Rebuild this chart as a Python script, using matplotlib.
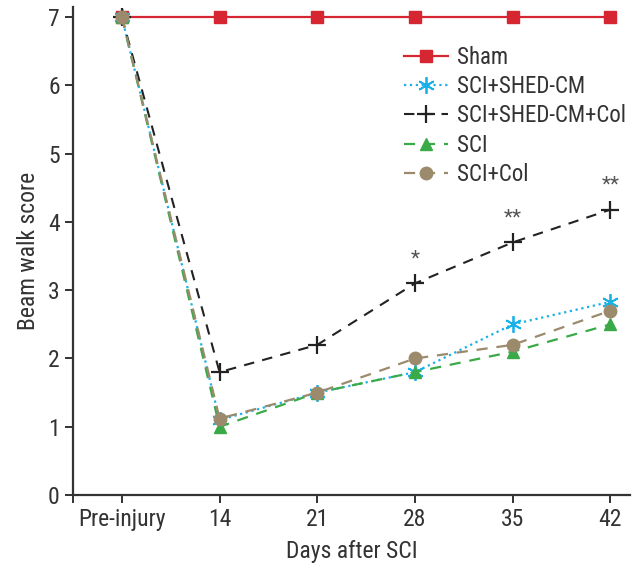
import numpy as np
import matplotlib.pyplot as plt
from matplotlib import font_manager

fams = set(f.name for f in font_manager.fontManager.ttflist)
narrow = 'DejaVu Sans'
for cand in ['Liberation Sans Narrow', 'Roboto Condensed', 'Open Sans Condensed', 'DejaVu Sans Condensed']:
    if cand in fams:
        narrow = cand
        break
plt.rcParams['font.family'] = [narrow, 'DejaVu Sans']
plt.rcParams['font.stretch'] = 'condensed'

# 데이터
days = ['Pre-injury', '14', '21', '28', '35', '42']
sham = [7, 7, 7, 7, 7, 7]
sci_shed = [7, 1.1, 1.5, 1.8, 2.5, 2.83]
sci_shed_col = [7, 1.8, 2.2, 3.1, 3.7, 4.18]
sci = [7, 1.0, 1.5, 1.8, 2.1, 2.5]
sci_col = [7, 1.12, 1.5, 2.0, 2.2, 2.7]
stars = ['', '', '', '*', '**', '**']

x = np.arange(len(days))

fig = plt.figure(figsize=(6.35, 5.71), dpi=100)
ax = fig.add_axes([0.115, 0.133, 0.877, 0.855])

ax.plot(x, sham, '-s', color='#d62631', ms=8, lw=1.6, label='Sham')
ax.plot(x, sci_shed, ':', marker=(6, 2, 0), color='#1ab0e8', ms=12, mew=1.3, lw=1.6, label='SCI+SHED-CM')
ax.plot(x, sci_shed_col, '--+', color='#222222', ms=13, mew=1.6, lw=1.5, dashes=(5, 4), label='SCI+SHED-CM+Col')
ax.plot(x, sci, '--^', color='#3aaa48', ms=9, lw=1.6, dashes=(5, 4), label='SCI')
ax.plot(x, sci_col, '--o', color='#9c8a6c', ms=9, lw=1.6, dashes=(5, 4), label='SCI+Col')

for i, s in enumerate(stars):
    if s:
        ax.text(x[i], sci_shed_col[i] + 0.22, s, ha='center', va='bottom', fontsize=15, color='#555555')

ax.set_xlim(-0.5, 5.2)
ax.set_ylim(0, 7.15)
ax.set_xticks(list(x) + [-0.5])
ax.set_xticklabels(days + [''])
ax.set_yticks(range(0, 8))
ax.tick_params(labelsize=17, length=6, width=1.4, color='#333333', labelcolor='#333333')
for side in ['top', 'right']:
    ax.spines[side].set_visible(False)
for side in ['left', 'bottom']:
    ax.spines[side].set_linewidth(1.6)
    ax.spines[side].set_color('#333333')

ax.set_xlabel('Days after SCI', fontsize=17, color='#333333', labelpad=6)
ax.set_ylabel('Beam walk score', fontsize=17, color='#333333', labelpad=6)

ax.legend(loc='upper right', bbox_to_anchor=(1.03, 0.962), frameon=False, fontsize=16.5,
          handlelength=1.9, handletextpad=0.4, labelspacing=0.27, labelcolor='#333333')

plt.savefig('out.png', dpi=100)
